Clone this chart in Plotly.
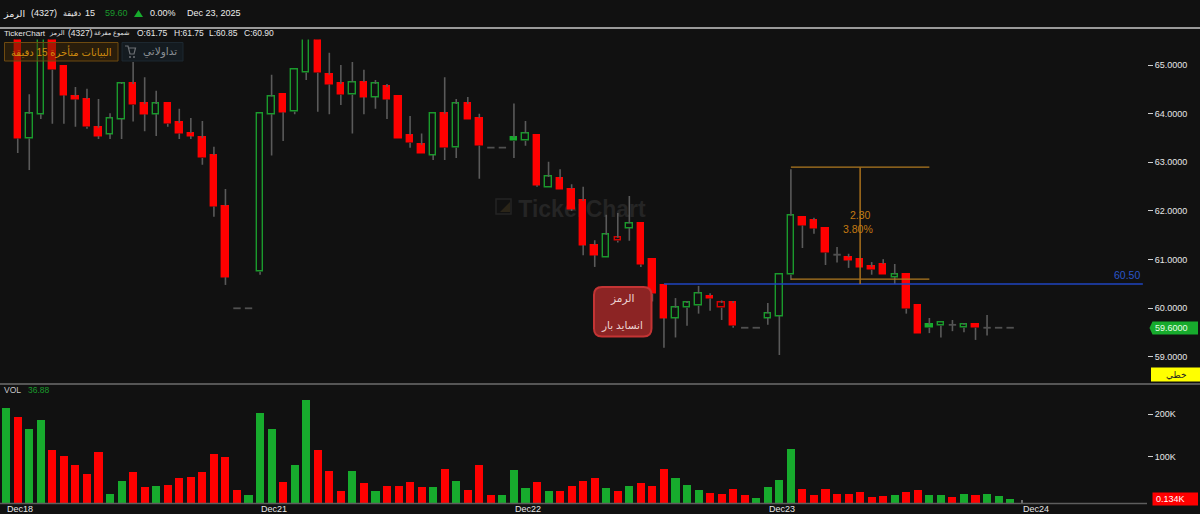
import plotly.graph_objects as go

# 15-minute session data for symbol 4327
opens = [65.80, 65.80, 63.49, 63.99, 65.70, 64.96, 64.35, 64.30, 63.71, 63.58, 63.89, 64.61, 64.20, 63.99, 64.20,
         63.81, 63.60, 63.50, 63.15, 62.10, 60.00, 60.00, 60.75, 63.99, 64.40, 64.04, 64.84, 65.65, 64.80, 64.61,
         64.39, 64.65, 64.34, 64.55, 64.36, 63.56, 63.36, 63.15, 64.00, 63.30, 64.20, 63.91, 63.30, 63.30, 63.44,
         63.44, 63.56, 62.49, 62.66, 62.45, 62.21, 61.30, 61.05, 61.45, 61.65, 61.75, 61.01, 60.46, 59.80, 60.01,
         60.05, 60.25, 60.11, 60.11, 59.60, 59.60, 59.80, 59.84, 60.69, 61.86, 61.81, 61.65, 61.10, 61.05, 61.01,
         60.85, 60.91, 60.64, 60.70, 60.05, 59.60, 59.64, 59.66, 59.60, 59.66, 59.60, 59.60, 59.60]
highs = [66.40, 66.00, 64.40, 65.90, 65.90, 64.96, 64.55, 64.51, 64.30, 64.01, 64.64, 65.06, 64.75, 64.47, 64.20,
         64.10, 63.91, 63.85, 63.32, 62.45, 60.00, 60.00, 64.00, 64.80, 64.40, 64.90, 65.80, 65.80, 65.25, 65.00,
         65.06, 64.90, 64.69, 64.61, 64.36, 63.95, 63.59, 64.00, 64.75, 64.30, 64.34, 64.00, 63.30, 63.30, 64.21,
         63.85, 63.56, 63.01, 62.86, 62.55, 62.50, 61.40, 61.92, 61.96, 62.31, 61.75, 61.01, 60.46, 60.21, 60.15,
         60.46, 60.31, 60.16, 60.15, 59.60, 59.60, 60.11, 60.70, 62.86, 61.86, 61.86, 61.65, 61.26, 61.12, 61.01,
         60.95, 61.01, 60.91, 60.70, 60.05, 59.80, 59.70, 59.76, 59.70, 59.66, 59.86, 59.60, 59.60]
lows = [65.70, 63.19, 62.84, 63.89, 63.79, 63.79, 63.73, 63.69, 63.48, 63.48, 63.48, 63.84, 63.64, 63.54, 63.73,
        63.48, 63.48, 62.95, 61.88, 60.48, 60.00, 60.00, 60.69, 63.14, 63.44, 63.99, 64.69, 64.04, 63.99, 64.18,
        63.59, 63.99, 64.10, 63.89, 63.49, 63.30, 63.19, 63.05, 63.05, 63.09, 63.89, 62.66, 63.30, 63.30, 63.09,
        63.34, 62.50, 62.49, 62.45, 62.00, 61.09, 60.85, 61.05, 61.35, 61.39, 60.85, 60.14, 59.19, 59.40, 59.64,
        59.89, 59.95, 59.76, 59.60, 59.60, 59.60, 59.66, 59.04, 60.58, 61.24, 61.53, 60.89, 60.94, 60.83, 60.83,
        60.69, 60.69, 60.50, 59.89, 59.49, 59.49, 59.40, 59.53, 59.51, 59.35, 59.44, 59.60, 59.60]
closes = [66.20, 63.49, 64.00, 65.70, 64.90, 64.38, 64.29, 63.73, 63.54, 63.91, 64.61, 64.18, 63.99, 64.20, 63.79,
          63.59, 63.54, 63.09, 62.09, 60.64, 60.00, 60.00, 64.00, 64.35, 64.03, 64.90, 65.65, 64.84, 64.60, 64.39,
          64.65, 64.34, 64.61, 64.29, 63.49, 63.40, 63.19, 64.00, 63.30, 64.20, 63.89, 63.34, 63.30, 63.30, 63.51,
          63.60, 62.53, 62.70, 62.45, 62.04, 61.30, 61.09, 61.51, 61.39, 61.75, 60.90, 60.30, 59.80, 60.01, 60.11,
          60.31, 60.20, 60.01, 59.64, 59.60, 59.60, 59.90, 60.70, 61.90, 61.70, 61.64, 61.14, 61.10, 60.99, 60.83,
          60.79, 60.69, 60.70, 59.99, 59.49, 59.66, 59.70, 59.66, 59.66, 59.60, 59.60, 59.60, 59.60]
volumes_k = [214.9, 194.4, 165.4, 186.6, 115.8, 100.9, 79.7, 60.0, 110.3, 12.1, 42.0, 64.0, 27.8, 30.2, 33.3,
             49.0, 53.0, 64.0, 106.4, 98.5, 22.3, 8.9, 203.9, 165.4, 39.6, 79.7, 233.7, 115.8, 66.3, 18.4,
             66.3, 38.0, 18.4, 31.7, 31.7, 41.2, 27.8, 27.8, 71.8, 42.7, 22.3, 79.7, 10.5, 8.9, 67.9,
             26.2, 41.2, 20.0, 20.0, 30.2, 43.5, 50.6, 26.2, 18.4, 30.2, 37.2, 31.7, 71.8, 50.6, 33.3,
             22.3, 14.5, 12.9, 23.9, 10.5, 2.7, 27.8, 45.1, 117.4, 23.9, 8.9, 23.9, 12.1, 11.3, 16.8,
             5.0, 7.4, 8.9, 16.8, 22.3, 8.9, 8.9, 5.0, 11.3, 8.9, 12.9, 7.4, 1.1]
volume_sides = list("grggrrrrrggrrgrrrrrrrgggrggrrrgrgrrrrgrgrrrgggrgrrrrgrgrrrgggrrrrggggrrrrrrrrgrrggrgrggg")
solid_green = [44, 80]
hollow_red = [53, 62]
date_ticks = [0, 22, 44, 66, 88]
date_labels = ["Dec18", "Dec21", "Dec22", "Dec23", "Dec24"]
price_ticks = [65, 64, 63, 62, 61, 60, 59]
volume_ticks = [100, 200]
level_price = 60.50
level_start = 57
measure_start, measure_mid, measure_end = 68, 74, 80
measure_high, measure_low = 62.90, 60.60

BG = "#111111"
RED = "#ff0000"
GREEN = "#17ab2d"
GREEN_EDGE = "#1a9a2c"
WICK = "#5a5a5a"
FONT = "Liberation Sans, DejaVu Sans, sans-serif"
W, H = 1200, 514
PANE_RIGHT = 1147


def fx(px):
    return px / W


def fy(py):
    return 1 - py / H


index = list(range(len(opens)))

# Wicks stop at the body edges so hollow candles stay dark inside
wick_x, wick_y = [], []
for i, o, h, l, c in zip(index, opens, highs, lows, closes):
    top, bottom = max(o, c), min(o, c)
    if h > top:
        wick_x += [i, i, None]
        wick_y += [top, h, None]
    if l < bottom:
        wick_x += [i, i, None]
        wick_y += [bottom, l, None]

# Bodies; flat sessions become short dashes instead
body_x, body_base, body_h, body_fill, body_edge = [], [], [], [], []
dash_x, dash_y = [], []
for i, o, c in zip(index, opens, closes):
    if o == c:
        dash_x += [i - 0.32, i + 0.32, None]
        dash_y += [o, o, None]
        continue
    body_x.append(i)
    body_base.append(min(o, c))
    body_h.append(abs(c - o))
    if c > o:
        body_fill.append(GREEN if i in solid_green else BG)
        body_edge.append(GREEN if i in solid_green else GREEN_EDGE)
    else:
        body_fill.append(BG if i in hollow_red else RED)
        body_edge.append("#d80000" if i in hollow_red else RED)

fig = go.Figure()
fig.add_trace(go.Bar(x=body_x, y=body_h, base=body_base, width=0.56,
                     marker=dict(color=body_fill, line=dict(color=body_edge, width=1.4)),
                     xaxis="x", yaxis="y", showlegend=False))
fig.add_trace(go.Scatter(x=wick_x, y=wick_y, mode="lines", line=dict(color=WICK, width=1.6),
                         xaxis="x", yaxis="y", showlegend=False))
fig.add_trace(go.Scatter(x=dash_x, y=dash_y, mode="lines", line=dict(color="#505050", width=1.8),
                         xaxis="x", yaxis="y", showlegend=False))

volume_base = -10.6
fig.add_trace(go.Bar(x=index, y=[v - volume_base for v in volumes_k], base=volume_base, width=0.7,
                     marker=dict(color=[GREEN if s == "g" else RED for s in volume_sides], line=dict(width=0)),
                     xaxis="x2", yaxis="y2", showlegend=False))

shapes = []
annotations = []


def text(x, y, s, size=9, color="#e6e6e6", anchor="left", bold=False):
    annotations.append(dict(xref="paper", yref="paper", x=fx(x), y=fy(y), text=f"<b>{s}</b>" if bold else s,
                            showarrow=False, xanchor=anchor, yanchor="middle",
                            font=dict(family=FONT, size=size, color=color), xshift=0, yshift=0,
                            borderpad=0, borderwidth=0))


def box(x0, y0, x1, y1, fill, edge=None, width=0, layer="above", opacity=1.0):
    shapes.append(dict(type="rect", xref="paper", yref="paper", x0=fx(x0), x1=fx(x1), y0=fy(y0), y1=fy(y1),
                       fillcolor=fill, line=dict(color=edge or fill, width=width), layer=layer, opacity=opacity))


def rounded(x0, y0, x1, y1, r):
    rx, ry = r / W, r / H
    a, b, c, d = fx(x0), fx(x1), fy(y0), fy(y1)
    return (f"M {a + rx} {c} L {b - rx} {c} Q {b} {c} {b} {c - ry} L {b} {d + ry} Q {b} {d} {b - rx} {d} "
            f"L {a + rx} {d} Q {a} {d} {a} {d + ry} L {a} {c - ry} Q {a} {c} {a + rx} {c} Z")


# Watermark sits beneath the candles
shapes.append(dict(type="rect", xref="paper", yref="paper", x0=fx(516), x1=fx(648), y0=fy(197), y1=fy(217),
                   fillcolor="rgba(0,0,0,0)", line=dict(width=0), layer="below",
                   label=dict(text="<b>TickerChart</b>", textposition="middle center",
                              font=dict(family=FONT, size=23, color="#252525"))))
box(496, 199, 511, 214, "rgba(0,0,0,0)", "#242424", 1.5, layer="below")
shapes.append(dict(type="path", xref="paper", yref="paper", layer="below", line=dict(width=0),
                   fillcolor="#2b2518",
                   path=f"M {fx(500)} {fy(212)} L {fx(510)} {fy(212)} L {fx(510)} {fy(202)} Z"))

# Frame lines
shapes.append(dict(type="line", xref="paper", yref="paper", x0=0, x1=1, y0=fy(28), y1=fy(28),
                   line=dict(color="#c8c8c8", width=1.5)))
shapes.append(dict(type="line", xref="paper", yref="paper", x0=0, x1=1, y0=fy(384), y1=fy(384),
                   line=dict(color="#6e6e6e", width=1.5)))
shapes.append(dict(type="line", xref="paper", yref="paper", x0=0, x1=fx(PANE_RIGHT), y0=fy(503.5), y1=fy(503.5),
                   line=dict(color="#5e5e5e", width=1.5)))

# Horizontal price level
shapes.append(dict(type="line", xref="x", yref="y", x0=level_start, x1=98.5, y0=level_price, y1=level_price,
                   line=dict(color="#1f45c0", width=1.5)))
annotations.append(dict(xref="x", yref="y", x=98.4, y=level_price, yshift=9, text=f"{level_price:.2f}",
                        showarrow=False, xanchor="right", yanchor="middle",
                        font=dict(family=FONT, size=10.5, color="#2a55c8")))

# Measure tool from high to low
for level in (measure_high, measure_low):
    shapes.append(dict(type="line", xref="x", yref="y", x0=measure_start, x1=measure_end, y0=level, y1=level,
                       line=dict(color="#b07a20", width=1.2)))
shapes.append(dict(type="line", xref="x", yref="y", x0=measure_mid, x1=measure_mid, y0=measure_high, y1=level_price,
                   line=dict(color="#a8701c", width=1.5)))
measure_diff = measure_high - measure_low
annotations.append(dict(xref="x", yref="y", x=measure_mid, y=measure_high, yshift=-48, text=f"{measure_diff:.2f}",
                        showarrow=False, font=dict(family=FONT, size=10.5, color="#c47a12")))
annotations.append(dict(xref="x", yref="y", x=measure_mid - 0.15, y=measure_high, yshift=-62,
                        text=f"{measure_diff / measure_low * 100:.2f}%",
                        showarrow=False, font=dict(family=FONT, size=10.5, color="#c47a12")))

# Top information row
text(25, 13, "الرمز", 9.5, "#ececec", "right")
text(31, 13, "(4327)", 9, "#ececec")
text(82, 13, "دقيقة", 8, "#ececec", "right")
text(85, 13, "15", 9, "#ececec")
text(105, 13, "59.60", 9, GREEN_EDGE)
shapes.append(dict(type="path", xref="paper", yref="paper", line=dict(width=0), fillcolor="#17ab2d",
                   path=f"M {fx(134)} {fy(17)} L {fx(143)} {fy(17)} L {fx(138.5)} {fy(10)} Z"))
text(150, 13, "0.00%", 9, "#ececec")
text(187, 13, "Dec 23, 2025", 9, "#ececec")

# Chart legend row
text(4, 33.5, "TickerChart", 8, "#e6e6e6")
text(65, 33.5, "الرمز", 6.5, "#e6e6e6", "right")
text(67.5, 33.5, "(4327)", 8.5, "#e6e6e6")
text(130, 33.5, "شموع مفرغة", 6.5, "#e6e6e6", "right")
text(137, 33.5, "O:61.75", 8.5, "#e6e6e6")
text(174, 33.5, "H:61.75", 8.5, "#e6e6e6")
text(209, 33.5, "L:60.85", 8.5, "#e6e6e6")
text(244, 33.5, "C:60.90", 8.5, "#e6e6e6")

# Status buttons
box(4.5, 42.5, 118, 61, "rgba(70,45,5,0.45)", "#6e4a10", 1)
text(61, 51.5, "البيانات متأخرة 15 دقيقة", 10, "#d08c0e", "center")
box(122, 42.5, 183, 61, "#141b20", "#1d2830", 1)
text(160, 51.5, "تداولاتي", 10.5, "#8a8f93", "center")
shapes.append(dict(type="path", xref="paper", yref="paper", line=dict(color="#6c7074", width=1.2),
                   fillcolor="rgba(0,0,0,0)",
                   path=(f"M {fx(125)} {fy(46)} L {fx(128)} {fy(46)} L {fx(130)} {fy(54)} L {fx(134)} {fy(54)} "
                         f"L {fx(135.5)} {fy(48)} L {fx(128.5)} {fy(48)}")))
for cx in (130, 134):
    shapes.append(dict(type="circle", xref="paper", yref="paper", x0=fx(cx - 1), x1=fx(cx + 1),
                       y0=fy(58), y1=fy(56), fillcolor="#6c7074", line=dict(width=0)))

# Pattern badge
shapes.append(dict(type="path", xref="paper", yref="paper", path=rounded(594, 287, 651.5, 336.5, 8),
                   fillcolor="#8c2424", line=dict(color="#c43434", width=2)))
text(622, 298.5, "الرمز", 10.5, "#ecd2d2", "center")
text(622, 325.5, "انساید بار", 10.5, "#ecd2d2", "center")

# Volume legend and date labels
text(4, 390, "VOL", 8.5, "#c8c8c8")
text(28, 390, "36.88", 8.5, GREEN_EDGE)
for tick, label in zip(date_ticks, date_labels):
    annotations.append(dict(xref="x2", yref="paper", x=tick, y=fy(508.5), text=label, showarrow=False,
                            xanchor="left", yanchor="middle", xshift=-1,
                            font=dict(family=FONT, size=9, color="#e6e6e6")))

# Right-hand value tags
shapes.append(dict(type="path", xref="paper", yref="paper", line=dict(width=0), fillcolor="#17ab2d",
                   path=(f"M {fx(1149.5)} {fy(328)} L {fx(1152.5)} {fy(321.5)} L {fx(1198)} {fy(321.5)} "
                         f"L {fx(1198)} {fy(334.5)} L {fx(1152.5)} {fy(334.5)} Z")))
text(1155, 328, "59.6000", 9, "#e6ffe9")
box(1151, 367.5, 1200, 381.5, "#ffff00", "#ffff00", 0)
text(1176, 374.5, "خطي", 9, "#222222", "center")
box(1152.5, 492.5, 1198, 505.5, RED, RED, 0)
text(1156, 499, "0.134K", 9, "#ffffff")

x_range = [-0.537, 98.86]
axis_font = dict(family=FONT, size=9, color="#e6e6e6")
fig.update_layout(
    width=W, height=H,
    margin=dict(l=0, r=0, t=0, b=0),
    paper_bgcolor=BG, plot_bgcolor=BG,
    hovermode=False, showlegend=False, bargap=0,
    barmode="overlay",
    xaxis=dict(domain=[0, fx(PANE_RIGHT)], range=x_range, visible=False, anchor="y", fixedrange=True),
    yaxis=dict(domain=[fy(384), fy(39.5)], range=[58.444, 65.524], side="right", anchor="x",
               tickvals=price_ticks, ticktext=[f"{p:.4f}" for p in price_ticks],
               ticks="outside", ticklen=5, tickwidth=1, tickcolor="#cfcfcf",
               showgrid=False, zeroline=False, showline=False, tickfont=axis_font),
    xaxis2=dict(domain=[0, fx(PANE_RIGHT)], range=x_range, anchor="y2", tickvals=date_ticks,
                showticklabels=False, ticks="inside", ticklen=4, tickwidth=1.5, tickcolor="#707070",
                showgrid=False, zeroline=False, showline=False, layer="below traces"),
    yaxis2=dict(domain=[fy(503.5), fy(384)], range=[volume_base, 271.2], side="right", anchor="x2",
                tickvals=volume_ticks, ticktext=[f"{v}K" for v in volume_ticks],
                ticks="outside", ticklen=5, tickwidth=1, tickcolor="#cfcfcf",
                showgrid=False, zeroline=False, showline=False, tickfont=axis_font),
    shapes=shapes, annotations=annotations,
)

fig.write_html("out.html", config={"displayModeBar": False})
